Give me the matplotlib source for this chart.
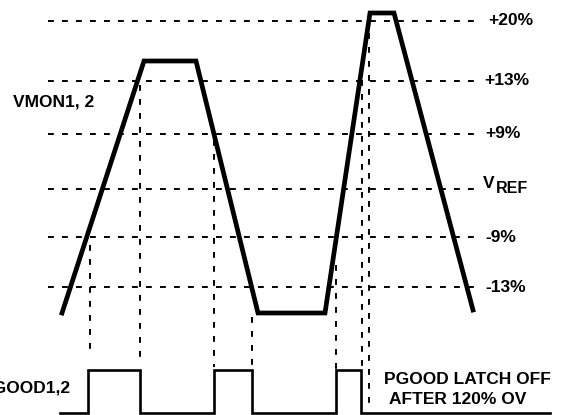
import matplotlib
matplotlib.use("Agg")
import matplotlib.pyplot as plt

# schematic units: x = time, y = level (VREF = 0, up positive)
level_names = ["+20%", "+13%", "+9%", "VREF", "-9%", "-13%"]
level_y = [168, 108, 55, 0, -48, -98]
level_label_x = [488, 484, 485, 483, 485, 485]

vmon_t = [62, 144, 196, 258, 325, 370, 394, 473]
vmon_v = [-124, 128, 128, -124, -124, 176, 176, -121]

# vertical threshold markers: time, top, bottom
mark_t = [90, 140, 214, 252, 336, 362, 369]
mark_top = [-56, 104, 49, -128, -76, 109, 156]
mark_bot = [-168, -171, -178, -178, -181, -181, -221]

pg_edges = [60, 88, 140, 214, 252, 336, 361, 550]
pg_state = [0, 1, 0, 1, 0, 1, 0]
pg_low, pg_high = -224, -181

plt.rcParams['font.family'] = ['Liberation Sans', 'DejaVu Sans']

fig = plt.figure(figsize=(5.66, 4.15), dpi=100)
ax = fig.add_axes([0, 0, 1, 1])
ax.set_xlim(0, 566)
ax.set_ylim(189 - 415, 189)
ax.axis('off')

dash = (0, (3.0, 4.2))
for y in level_y:
    ax.plot([48, 476], [y, y], color='black', lw=1.4, linestyle=dash)

for t, a, b in zip(mark_t, mark_top, mark_bot):
    ax.plot([t, t], [a, b], color='black', lw=1.4, linestyle=dash)

ax.plot(vmon_t, vmon_v, color='black', lw=3.4, solid_joinstyle='miter')

# PGOOD step trace
px, py = [], []
for i, s in enumerate(pg_state):
    y = pg_high if s else pg_low
    px += [pg_edges[i], pg_edges[i + 1]]
    py += [y, y]
ax.plot(px, py, color='black', lw=1.9, solid_joinstyle='miter')

fs = 12.5
for name, y, x in zip(level_names, level_y, level_label_x):
    if name == "VREF":
        ax.text(x, y + 1, "V", fontsize=fs, fontweight='bold', va='baseline', ha='left')
        ax.text(x + 12.5, y - 4, "REF", fontsize=11.5, fontweight='bold', va='baseline', ha='left')
    else:
        ax.text(x, y, name, fontsize=fs, fontweight='bold', va='center', ha='left')

ax.text(13, 87, "VMON1, 2", fontsize=fs, fontweight='bold', va='center', ha='left')
ax.text(71, -199, "PGOOD1,2", fontsize=fs, fontweight='bold', va='center', ha='right')
ax.text(384, -191, "PGOOD LATCH OFF", fontsize=fs, fontweight='bold', va='center', ha='left')
ax.text(389, -210, "AFTER 120% OV", fontsize=fs, fontweight='bold', va='center', ha='left')

fig.savefig("out.png", dpi=100)
